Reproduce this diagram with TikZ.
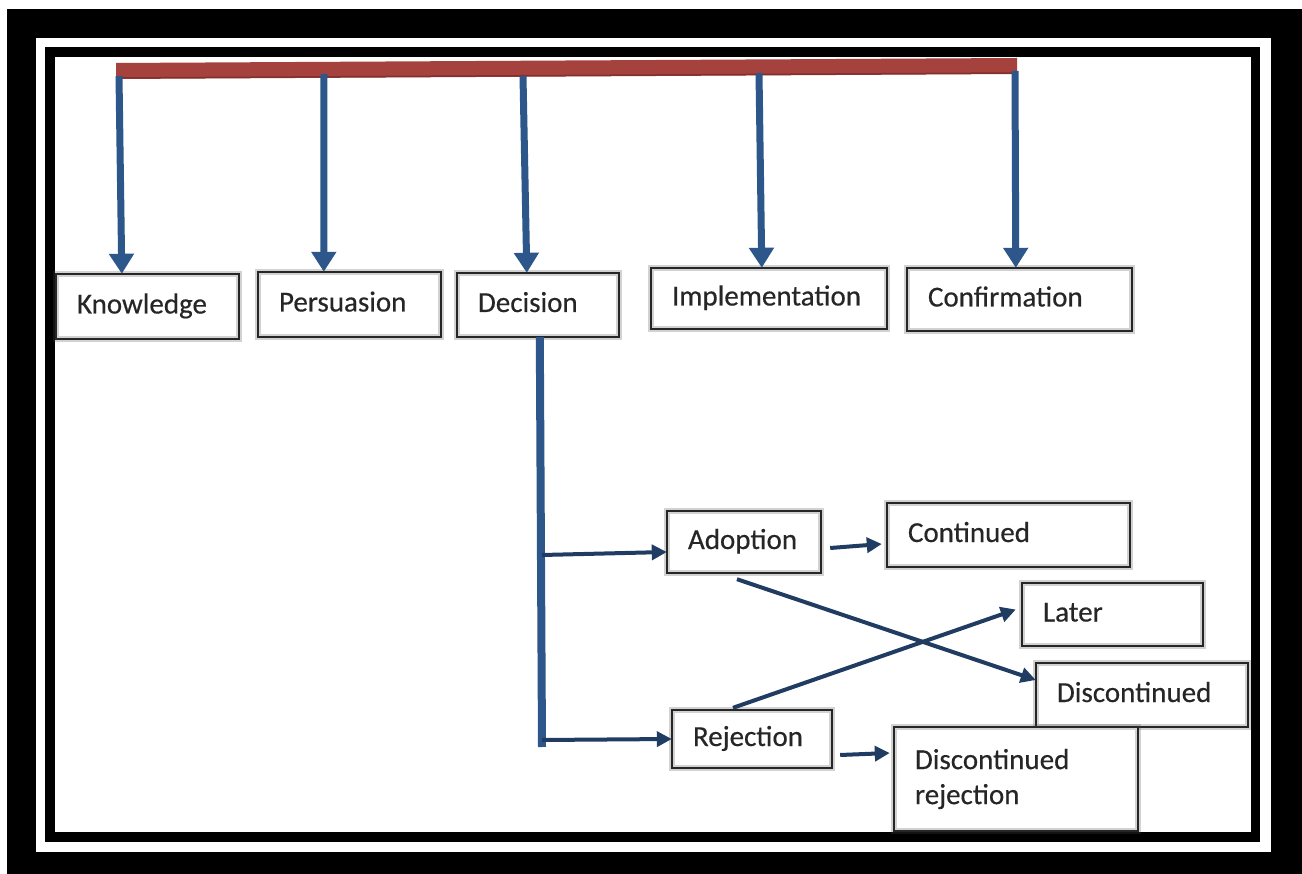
\documentclass[tikz,border=0pt]{standalone}
\usepackage{fontspec}
\setmainfont{Carlito}[FakeBold=0.4]
\usetikzlibrary{arrows.meta}
\definecolor{barred}{RGB}{166,66,62}
\definecolor{barredd}{RGB}{130,48,46}
\definecolor{thickblue}{RGB}{45,86,138}
\definecolor{thinblue}{RGB}{33,60,98}
\begin{document}
\begin{tikzpicture}[x=1pt,y=-1pt,
  box/.style={rectangle, fill=white, inner xsep=21pt, inner ysep=0pt, align=left,
    font=\fontsize{29}{35}\selectfont, text=black!85,
    postaction={draw=black!70,line width=6pt,opacity=.25},
    postaction={draw=black!85,line width=2.6pt}},
  onel/.style={text height=20pt, text depth=6pt},
  varrow/.style={draw=thickblue, line width=7pt, -{Triangle[width=24pt,length=20pt]}},
  harrow/.style={draw=thinblue, line width=4pt, -{Triangle[width=15pt,length=15pt]}},
  trunk/.style={draw=thickblue, line width=8pt}
]
\useasboundingbox (0,0) rectangle (1302,874);
\fill[white] (0,0) rectangle (1302,874);
% frame
\fill[black] (7,9) rectangle (1302,874);
\fill[white] (36,38) rectangle (1271,852);
\fill[black] (45,47) rectangle (1260,842);
\fill[white] (55,57) rectangle (1251,832);

% red bar
\fill[barred] (116,63) -- (1017,58) -- (1017,74) -- (116,79) -- cycle;
\draw[barredd, line width=1.5pt] (116,78) -- (1017,73);

% boxes
\node[box,onel,minimum height=65pt,text width=141pt] (kn) at (147.5,306.5) {Knowledge};
\node[box,onel,minimum height=65pt,text width=141pt] (pe) at (349.5,304.5) {Persuasion};
\node[box,onel,minimum height=64pt,text width=120pt] (de) at (538,305) {Decision};
\node[box,onel,minimum height=61pt,text width=194pt] (im) at (769,298.5) {Implementation};
\node[box,onel,minimum height=63pt,text width=183pt] (co) at (1019.5,299.5) {Confirmation};
\node[box,onel,minimum height=62pt,text width=112pt] (ad) at (744,542) {Adoption};
\node[box,onel,minimum height=64pt,text width=201pt] (cn) at (1008.5,535) {Continued};
\node[box,onel,minimum height=63pt,text width=139pt] (la) at (1112.5,614.5) {Later};
\node[box,onel,minimum height=64pt,text width=170pt] (di) at (1142,695) {Discontinued};
\node[box,onel,minimum height=58pt,text width=118pt] (re) at (752,739) {Rejection};
\node[box,minimum height=104pt,text width=202pt] (dr) at (1016,779) {Discontinued\\rejection};

% vertical arrows from bar
\coordinate (t1) at (119,76);
\coordinate (t2) at (324,74);
\coordinate (t3) at (523,76);
\coordinate (t4) at (759,73);
\coordinate (t5) at (1015,71);
\draw[varrow] (t1) -- ([xshift=66pt]kn.north west);
\draw[varrow] (t2) -- ([xshift=66pt]pe.north west);
\draw[varrow] (t3) -- ([xshift=70pt]de.north west);
\draw[varrow] (t4) -- ([xshift=111pt]im.north west);
\draw[varrow] (t5) -- ([xshift=109pt]co.north west);

% decision trunk
\coordinate (dend) at (542,747);
\coordinate (bA) at (542,555);
\coordinate (bR) at (542,740);
\draw[trunk] ([xshift=83pt]de.south west) -- (dend);
\draw[harrow] (bA) -- ([yshift=-10pt]ad.west);
\draw[harrow] (bR) -- (re.west);

% right side arrows
\draw[harrow] ([xshift=9pt,yshift=-6pt]ad.east) -- ([xshift=-5pt,yshift=-9pt]cn.west);
\draw[harrow] ([xshift=8pt,yshift=-16pt]re.east) -- ([xshift=-4pt,yshift=26pt]dr.west);
\draw[harrow] ([xshift=-7pt,yshift=-6pt]ad.south) -- ([yshift=15pt]di.west);
\draw[harrow] ([xshift=-19pt,yshift=2pt]re.north) -- ([xshift=-6pt,yshift=5pt]la.west);
\end{tikzpicture}
\end{document}
